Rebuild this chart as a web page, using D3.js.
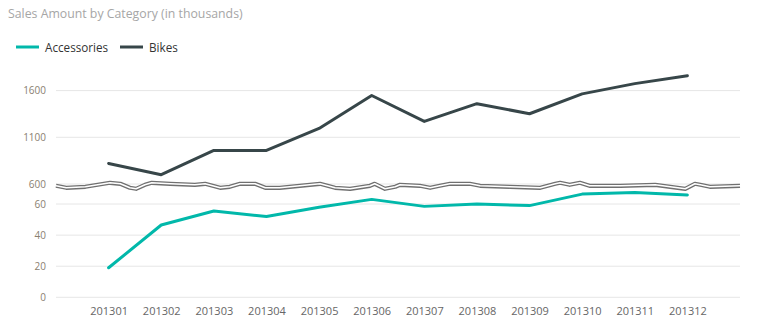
<!DOCTYPE html>
<html>
<head>
<meta charset="utf-8">
<script src="https://cdn.jsdelivr.net/npm/d3@7"></script>
<style>
  html, body { margin: 0; padding: 0; background: #fff; }
  svg { display: block; }
  text { font-family: "Open Sans", "Noto Sans", sans-serif; }
</style>
</head>
<body>
<svg id="chart" width="759" height="333"></svg>
<script>
// ---- data ----
const months = ["201301","201302","201303","201304","201305","201306","201307","201308","201309","201310","201311","201312"];
const bikes = [820, 700, 960, 960, 1195, 1548, 1270, 1460, 1352, 1565, 1675, 1760];
const accessories = [19, 46.5, 55.5, 52, 58, 63, 58.5, 60, 59, 66.4, 67.5, 65.8];
const upperTicks = [600, 1100, 1600];
const lowerTicks = [0, 20, 40, 60];
const seriesNames = ["Accessories", "Bikes"];
// break decoration: [x fraction of plot width, vertical offset in px]
const breakWiggle = [[0,0],[0.015,2],[0.043,1],[0.079,-3],[0.094,-2],[0.108,2],[0.117,3],[0.13,-1],[0.14,-3],[0.167,-2],[0.203,-1],[0.218,-2],[0.24,2],[0.254,1],[0.269,-2],[0.291,-2],[0.306,2],[0.327,2],[0.371,-1],[0.386,-2],[0.408,2],[0.43,3],[0.459,0],[0.466,-2],[0.481,3],[0.496,1],[0.503,-1],[0.532,0],[0.547,2],[0.561,0],[0.576,-2],[0.605,-2],[0.62,0],[0.664,1],[0.708,2],[0.73,-2],[0.737,-3],[0.751,-1],[0.766,-3],[0.78,0],[0.825,0],[0.876,-1],[0.898,1],[0.92,3],[0.934,-2],[0.942,-1],[0.956,1],[1,0]];

const colors = { Accessories: "#01B8AA", Bikes: "#374649" };

const svg = d3.select("#chart");
const left = 56, right = 740;

const x = d3.scalePoint().domain(months).range([left, right]).padding(1);
const yTop = d3.scaleLinear().domain([600, 1900]).range([184, 62.6]);
const yBot = d3.scaleLinear().domain([0, 70]).range([297.3, 188.5]);

// title
svg.append("text").attr("x", 8).attr("y", 18)
  .attr("fill", "#a6a6a6").attr("font-size", 12.3)
  .text("Sales Amount by Category (in thousands)");

// legend
const lg = svg.append("g");
const legendX = [16, 120];
seriesNames.forEach((n, i) => {
  lg.append("line").attr("x1", legendX[i]).attr("x2", legendX[i] + 23)
    .attr("y1", 47).attr("y2", 47)
    .attr("stroke", colors[n]).attr("stroke-width", 3);
  lg.append("text").attr("x", legendX[i] + 29).attr("y", 51.5)
    .attr("fill", "#333").attr("font-size", 11.7).text(n);
});

// gridlines
const grid = svg.append("g");
upperTicks.forEach(t => {
  grid.append("line").attr("x1", left).attr("x2", right)
    .attr("y1", yTop(t)).attr("y2", yTop(t))
    .attr("stroke", "#e6e6e6").attr("stroke-width", 1);
});
lowerTicks.forEach(t => {
  grid.append("line").attr("x1", left).attr("x2", right)
    .attr("y1", yBot(t)).attr("y2", yBot(t))
    .attr("stroke", "#e6e6e6").attr("stroke-width", 1);
});

// y axes
const axTop = svg.append("g").attr("transform", `translate(${left - 10},0)`)
  .call(d3.axisLeft(yTop).tickValues(upperTicks).tickSize(0).tickPadding(0).tickFormat(d3.format("d")));
const axBot = svg.append("g").attr("transform", `translate(${left - 10},0)`)
  .call(d3.axisLeft(yBot).tickValues(lowerTicks).tickSize(0).tickPadding(0).tickFormat(d3.format("d")));
[axTop, axBot].forEach(a => {
  a.select(".domain").remove();
  a.selectAll("text").attr("fill", "#8a8070").attr("font-size", 10)
    .attr("font-family", "'Open Sans', sans-serif");
});

// x axis
const axX = svg.append("g").attr("transform", `translate(0,${297})`)
  .call(d3.axisBottom(x).tickSize(0).tickPadding(10));
axX.select(".domain").remove();
axX.selectAll("text").attr("fill", "#666").attr("font-size", 11)
  .attr("font-family", "'Open Sans', sans-serif");

// lines
const lineTop = d3.line().x((d, i) => x(months[i])).y(d => yTop(d));
const lineBot = d3.line().x((d, i) => x(months[i])).y(d => yBot(d));

svg.append("path").attr("d", lineBot(accessories))
  .attr("fill", "none").attr("stroke", colors.Accessories)
  .attr("stroke-width", 3).attr("stroke-linejoin", "round").attr("stroke-linecap", "round");

// break marker
const breakY = 185.8;
const wigLine = d3.line().x(d => left + d[0] * (right - left)).y(d => breakY + d[1]);
svg.append("path").attr("d", wigLine(breakWiggle))
  .attr("fill", "none").attr("stroke", "#707070").attr("stroke-width", 4.2).attr("stroke-linejoin", "round");
svg.append("path").attr("d", wigLine(breakWiggle))
  .attr("fill", "none").attr("stroke", "#fff").attr("stroke-width", 1.6).attr("stroke-linejoin", "round");

svg.append("path").attr("d", lineTop(bikes))
  .attr("fill", "none").attr("stroke", colors.Bikes)
  .attr("stroke-width", 3).attr("stroke-linejoin", "round").attr("stroke-linecap", "round");
</script>
</body>
</html>
